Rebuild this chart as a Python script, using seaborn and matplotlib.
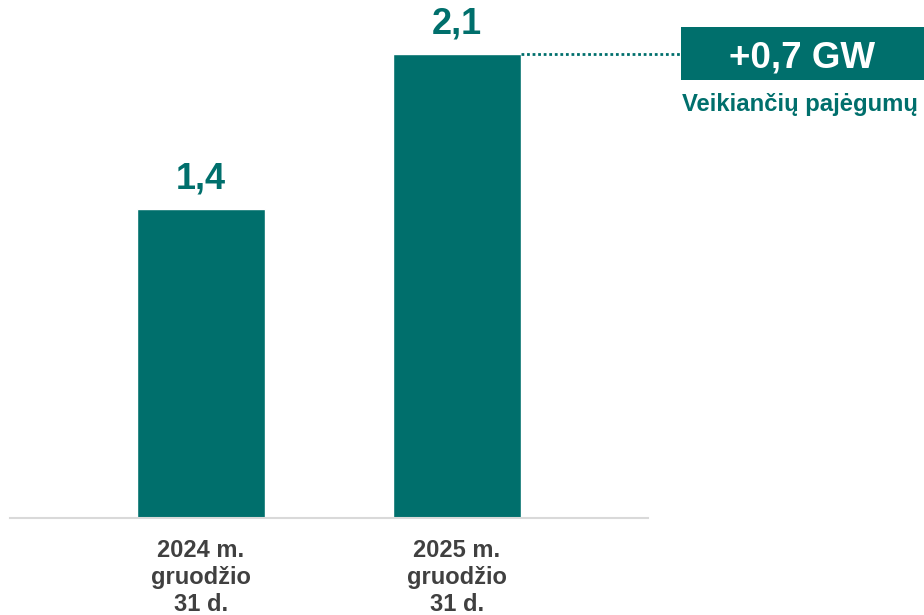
import seaborn as sns
import matplotlib.pyplot as plt
import pandas as pd
from matplotlib.patches import Rectangle

# data
dates = ["2024 m.\ngruodžio\n31 d.", "2025 m.\ngruodžio\n31 d."]
capacity_gw = [1.4, 2.1]
change_label = "+0,7 GW"
change_caption = "Veikiančių pajėgumų"

df = pd.DataFrame({"Data": dates, "GW": capacity_gw})

teal = "#006F6C"
grey = "#404040"

sns.set_style("white")
plt.rcParams["font.family"] = ["Liberation Sans", "DejaVu Sans"]

fig = plt.figure(figsize=(9.24, 6.15), dpi=100)
ax = fig.add_axes([10 / 924, 1 - 518 / 615, 638 / 924, 518 / 615])

sns.barplot(data=df, x="Data", y="GW", color=teal, width=0.5, saturation=1, ax=ax)

ax.set_xlim(-0.746, 1.746)
ax.set_ylim(0, 2.344)
ax.set_xlabel("")
ax.set_ylabel("")
ax.set_yticks([])
for s in ["top", "right", "left"]:
    ax.spines[s].set_visible(False)
ax.spines["bottom"].set_color("#D9D9D9")
ax.spines["bottom"].set_linewidth(1.5)
ax.tick_params(axis="x", length=0, pad=15)
for lab in ax.get_xticklabels():
    lab.set_fontsize(17)
    lab.set_fontweight("bold")
    lab.set_color(grey)
    lab.set_linespacing(1.22)

labels = [f"{v:.1f}".replace(".", ",") for v in capacity_gw]
ax.bar_label(ax.containers[0], labels=labels, padding=9,
             fontsize=26, fontweight="bold", color=teal)

# dotted connector from the last bar to the change box
top = capacity_gw[-1]
x_right = len(capacity_gw) - 1 + 0.25
box_x = 1.875
ax.plot([x_right, box_x], [top, top], ls=(0, (1, 1)), lw=2, color=teal, clip_on=False)

box = Rectangle((box_x, top - 0.12), 1.2, 0.24, facecolor=teal, edgecolor="none",
                clip_on=False, transform=ax.transData)
ax.add_patch(box)
ax.text(2.348, top, change_label, ha="center", va="center_baseline", fontsize=26.5,
        fontweight="bold", color="white", clip_on=False)
ax.text(box_x + 0.004, top - 0.227, change_caption, ha="left", va="center",
        fontsize=17.2, fontweight="bold", color=teal, clip_on=False)

fig.savefig("out.png", dpi=100)
